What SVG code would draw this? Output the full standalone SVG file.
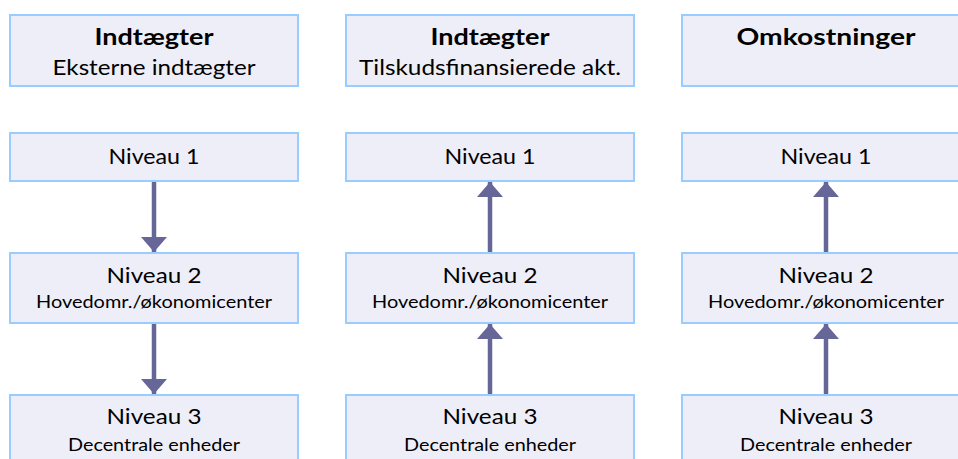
<svg xmlns="http://www.w3.org/2000/svg" width="958" height="459" viewBox="0 0 958 459">
<style>
.box{fill:#EEEEF8;stroke:#99CCFF;stroke-width:2}
text{font-family:Lato,"Liberation Sans",sans-serif;fill:#000;text-anchor:middle}
.t{font-size:22px}
.b{font-size:22px;font-weight:bold}
.s{font-size:17px}
.con{stroke:#666699;stroke-width:4.5;fill:none}
</style>
<defs>
<marker id="ah" markerUnits="userSpaceOnUse" markerWidth="26" markerHeight="16" refX="15" refY="8" orient="auto" viewBox="0 0 16 26">
<path d="M0,0 L15,13 L0,26 Z" fill="#666699" transform="translate(0,-5)"/>
</marker>
<marker id="arr" markerUnits="userSpaceOnUse" markerWidth="15" markerHeight="26" refX="15" refY="13" orient="auto" viewBox="0 0 15 26">
<path d="M0,0 L15,13 L0,26 Z" fill="#666699"/>
</marker>
</defs>

<g id="col1-head"><rect class="box" x="10" y="15" width="288" height="71"/>
<text class="b" x="154" y="45" textLength="119" lengthAdjust="spacingAndGlyphs">Indtægter</text>
<text class="t" x="154" y="75" textLength="203" lengthAdjust="spacingAndGlyphs">Eksterne indtægter</text></g>
<g id="col2-head"><rect class="box" x="346" y="15" width="288" height="71"/>
<text class="b" x="490" y="45" textLength="119" lengthAdjust="spacingAndGlyphs">Indtægter</text>
<text class="t" x="490" y="75" textLength="262" lengthAdjust="spacingAndGlyphs">Tilskudsfinansierede akt.</text></g>
<g id="col3-head"><rect class="box" x="682" y="15" width="290" height="71"/>
<text class="b" x="826" y="45" textLength="179" lengthAdjust="spacingAndGlyphs">Omkostninger</text></g>

<g id="c1-n1"><rect class="box" x="10" y="133" width="288" height="48"/>
<text class="t" x="154" y="164" textLength="91" lengthAdjust="spacingAndGlyphs">Niveau  1</text></g>
<g id="c2-n1"><rect class="box" x="346" y="133" width="288" height="48"/>
<text class="t" x="490" y="164" textLength="91" lengthAdjust="spacingAndGlyphs">Niveau  1</text></g>
<g id="c3-n1"><rect class="box" x="682" y="133" width="290" height="48"/>
<text class="t" x="826" y="164" textLength="91" lengthAdjust="spacingAndGlyphs">Niveau  1</text></g>

<g id="c1-n2"><rect class="box" x="10" y="253" width="288" height="70"/>
<text class="t" x="154" y="283" textLength="95" lengthAdjust="spacingAndGlyphs">Niveau 2</text>
<text class="s" x="154" y="308" textLength="236" lengthAdjust="spacingAndGlyphs">Hovedomr./økonomicenter</text></g>
<g id="c2-n2"><rect class="box" x="346" y="253" width="288" height="70"/>
<text class="t" x="490" y="283" textLength="95" lengthAdjust="spacingAndGlyphs">Niveau 2</text>
<text class="s" x="490" y="308" textLength="236" lengthAdjust="spacingAndGlyphs">Hovedomr./økonomicenter</text></g>
<g id="c3-n2"><rect class="box" x="682" y="253" width="290" height="70"/>
<text class="t" x="826" y="283" textLength="95" lengthAdjust="spacingAndGlyphs">Niveau 2</text>
<text class="s" x="826" y="308" textLength="236" lengthAdjust="spacingAndGlyphs">Hovedomr./økonomicenter</text></g>

<g id="c1-n3"><rect class="box" x="10" y="395" width="288" height="72"/>
<text class="t" x="154" y="424" textLength="95" lengthAdjust="spacingAndGlyphs">Niveau 3</text>
<text class="s" x="154" y="451" textLength="172" lengthAdjust="spacingAndGlyphs">Decentrale enheder</text></g>
<g id="c2-n3"><rect class="box" x="346" y="395" width="288" height="72"/>
<text class="t" x="490" y="424" textLength="95" lengthAdjust="spacingAndGlyphs">Niveau 3</text>
<text class="s" x="490" y="451" textLength="172" lengthAdjust="spacingAndGlyphs">Decentrale enheder</text></g>
<g id="c3-n3"><rect class="box" x="682" y="395" width="290" height="72"/>
<text class="t" x="826" y="424" textLength="95" lengthAdjust="spacingAndGlyphs">Niveau 3</text>
<text class="s" x="826" y="451" textLength="172" lengthAdjust="spacingAndGlyphs">Decentrale enheder</text></g>

<g id="connectors" class="con">
<path d="M154,182 L154,252" marker-end="url(#arr)"/>
<path d="M154,324 L154,394" marker-end="url(#arr)"/>
<path d="M490,252 L490,182" marker-end="url(#arr)"/>
<path d="M490,394 L490,324" marker-end="url(#arr)"/>
<path d="M826,252 L826,182" marker-end="url(#arr)"/>
<path d="M826,394 L826,324" marker-end="url(#arr)"/>
</g>
</svg>
